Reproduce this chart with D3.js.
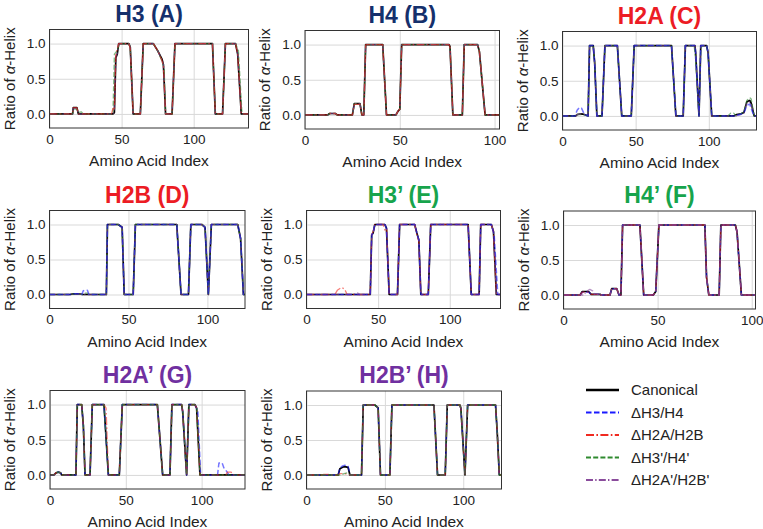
<!DOCTYPE html>
<html><head><meta charset="utf-8">
<script src="https://cdn.jsdelivr.net/npm/d3@7"></script>
<style>
body{margin:0;background:#fff}
svg{display:block}
text{font-family:"Liberation Sans",Arial,Helvetica,sans-serif}
</style>
</head><body>
<svg id="chart" width="763" height="529"></svg>
<script>
// ---------------- data (vertices [aminoAcidIndex, ratio]) ----------------
const seriesNames = ["Canonical", "ΔH3/H4", "ΔH2A/H2B", "ΔH3'/H4'", "ΔH2A'/H2B'"];
const xTicks = [0, 50, 100];
const yTicks = [0.0, 0.5, 1.0];
const yTickLabels = ["0.0", "0.5", "1.0"];

// H3 (A)
const h3Canonical = [[0,0],[16,0],[16.5,0.09],[19,0.09],[20,0],[44,0],[45,0.02],[46,0.8],[47,0.85],[48,1],[55,1],[56,0.95],[58,0],[63,0],[65,1],[72,1],[75,0.9],[78,0.78],[79,0.7],[80.5,0],[85,0],[87,1],[113,1],[115,0],[120,0],[122,1],[129,1],[130.5,0.85],[133,0],[138,0]];
const h3DH2AH2B = [[0,0],[16,0],[16.5,0.09],[19,0.09],[20,0],[43,0],[44,0.08],[45,0.05],[46,0.85],[48,1],[55,1],[56,0.93],[58,0],[63,0],[65,1],[72,1],[75,0.9],[78,0.76],[79,0.68],[80.5,0],[85,0],[87,1],[113,1],[115,0],[120,0],[122,1],[129,1],[130.5,0.85],[133,0],[138,0]];
const h3DH3pH4p = [[0,0],[16,0],[16.5,0.07],[19,0.07],[20,0.02],[22,0.03],[23.5,0],[44,0],[45,0.85],[47,0.9],[48.5,1],[55,1],[56,0.95],[58,0],[63,0],[65,1],[72,1],[75,0.9],[78,0.75],[79.5,0.65],[80.5,0],[85,0],[87,1],[113,1],[115,0],[120,0],[122,1],[129,1],[131,0.9],[133.5,0],[138,0]];
const h3DH2ApH2Bp = [[0,0],[16,0],[16.5,0.08],[19,0.08],[20,0],[44,0],[45,0.03],[46,0.82],[47,0.86],[48,1],[55,1],[56,0.95],[58,0],[63,0],[65,1],[72,1],[75,0.9],[78,0.77],[79,0.7],[80.5,0],[85,0],[87,1],[113,1],[115,0],[120,0],[122,1],[129,1],[130.5,0.86],[133,0],[138,0]];

// H4 (B)
const h4Canonical = [[0,0],[12,0],[13,0.02],[16,0.02],[17,0],[25,0],[26,0.16],[29,0.16],[30,0],[31,0],[32,1],[41,1],[43,0],[48,0],[49,0.05],[50,0.08],[51,1],[76,1],[76.5,0.97],[78,0],[83,0],[84,1],[91,1],[92,0.9],[95,0],[102.6,0]];
const h4DH2AH2B = [[0,0],[12,0],[13,0.02],[16,0.02],[17,0],[25,0],[26,0.15],[29,0.15],[30,0],[31,0],[32,1],[41,1],[43,0],[48,0],[49,0.05],[50,0.08],[51,1],[76,1],[76.5,0.96],[78,0],[83,0],[84,1],[91,1],[92,0.9],[95,0],[102.6,0]];
const h4DH3pH4p = [[0,0],[12,0],[13,0.02],[16,0.02],[17,0],[25,0],[26,0.16],[29,0.16],[30,0],[31,0],[32,1],[41,1],[43,0],[48,0],[49,0.05],[50,0.08],[51,1],[76,1],[76.5,0.97],[78,0],[83,0],[84,1],[91,1],[92,0.9],[95,0],[102.6,0]];
const h4DH2ApH2Bp = [[0,0],[12,0],[13,0.02],[16,0.02],[17,0],[25,0],[26,0.16],[29,0.16],[30,0],[31,0],[32,1],[41,1],[43,0],[48,0],[49,0.05],[50,0.08],[51,1],[76,1],[76.5,0.97],[78,0],[83,0],[84,1],[91,1],[92,0.9],[95,0],[102.6,0]];

// H2A (C)
const h2aCanonical = [[0,0],[9,0],[10,0.02],[13,0.03],[15,0.02],[17.5,0],[18.5,1],[21,1],[22,0.75],[23.5,0],[27,0],[29,1],[37.5,1],[40.5,0],[47,0],[49,1],[74.5,1],[77.5,0],[82.5,0],[84,1],[90.5,1],[91,0.9],[93.3,0],[94.5,1],[98.5,1],[99.5,0.9],[102,0],[117,0],[119,0.02],[122,0.03],[124,0.05],[126,0.2],[128,0.22],[129,0.18],[131,0],[132.6,0]];
const h2aDH3H4 = [[0,0],[8.5,0],[10,0.08],[11.5,0.12],[13,0.11],[15,0.02],[17.5,0],[18.5,1],[21,1],[22,0.75],[23.5,0],[27,0],[29,1],[37.5,1],[40.5,0],[47,0],[49,1],[74.5,1],[77.5,0],[82.5,0],[84,1],[90.5,1],[91,0.9],[93.3,0],[94.5,1],[98.5,1],[99.5,0.9],[102,0],[118,0],[121,0.02],[124,0.04],[126,0.15],[128,0.17],[129,0.1],[131,0],[132.6,0]];
const h2aDH3pH4p = [[0,0],[9,0],[10,0.02],[13,0.02],[17.5,0],[18.5,1],[21,1],[22,0.75],[23.5,0],[27,0],[29,1],[37.5,1],[40.5,0],[47,0],[49,1],[74.5,1],[77.5,0],[82.5,0],[84,1],[90,1],[90.8,0.85],[93.3,0],[94.5,0.95],[95.5,1],[98.5,1],[99.5,0.9],[102,0],[113,0],[115,0.04],[117,0.04],[118.5,0],[121,0.02],[124,0.06],[126,0.22],[128,0.26],[129,0.24],[131,0],[132.6,0]];
const h2aDH2ApH2Bp = [[0,0],[9,0],[10,0.02],[13,0.03],[15,0.02],[17.5,0],[18.5,1],[21,1],[22,0.75],[23.5,0],[27,0],[29,1],[37.5,1],[40.5,0],[47,0],[49,1],[74.5,1],[77.5,0],[82.5,0],[84,1],[90.5,1],[91,0.9],[93.3,0],[94.5,1],[98.5,1],[99.5,0.9],[102,0],[118,0],[122,0.02],[124,0.04],[126,0.18],[128,0.2],[129,0.16],[131,0],[132.6,0]];

// H2B (D)
const h2bCanonical = [[0,0],[13,0],[15,0.01],[19,0.01],[21,0],[36,0],[36.7,1],[43.5,1],[46,0.96],[47.3,0],[53,0],[54.4,1],[80.6,1],[83.3,0],[88,0],[89.5,1],[96.5,1],[98.5,0.96],[100.6,0],[102.5,1],[119.2,1],[121,0.8],[122.8,0],[123.8,0]];
const h2bDH3H4 = [[0,0],[13,0],[15,0.01],[19,0.01],[20.5,0],[21.3,0.05],[22,0.06],[24,0.06],[25,0],[36,0],[36.7,1],[43.5,1],[46,0.96],[47.3,0],[53,0],[54.4,1],[80.6,1],[83.3,0],[88,0],[89.5,1],[96.5,1],[98.5,0.96],[100.6,0],[102.5,1],[119.2,1],[121,0.8],[122.8,0],[123.8,0]];
const h2bDH3pH4p = [[0,0],[13,0],[15,0.01],[19,0.01],[21,0],[22,0.02],[24,0.02],[25,0],[36,0],[36.7,1],[43.5,1],[46,0.96],[47.3,0],[53,0],[54.4,1],[80.6,1],[83.3,0],[88,0],[89.5,1],[96.5,1],[98.5,0.96],[100.6,0],[102.5,1],[119.2,1],[121,0.8],[122.8,0],[123.8,0]];
const h2bDH2ApH2Bp = [[0,0],[13,0],[15,0.01],[19,0.01],[21,0],[36,0],[36.7,1],[43.5,1],[46,0.96],[47.3,0],[53,0],[54.4,1],[80.6,1],[83.3,0],[88,0],[89.5,1],[96.5,1],[98.5,0.96],[100.6,0],[102.5,1],[119.2,1],[121,0.8],[122.8,0],[123.8,0]];

// H3' (E)
const h3pCanonical = [[0,0],[44.5,0],[45.5,0.85],[46.5,0.88],[47.7,1],[54.7,1],[55.8,0.95],[57.7,0],[63.5,0],[65,1],[75.5,1],[77,0.88],[78.4,0.78],[79.8,0],[85,0],[86.7,1],[112.8,1],[115,0],[120.5,0],[121.6,1],[129,1],[130.5,0.9],[132.5,0],[135.4,0]];
const h3pDH3H4 = [[0,0],[44.5,0],[45.5,0.85],[46.5,0.88],[47.7,1],[54.7,1],[55.8,0.95],[57.7,0],[63.5,0],[65,1],[75.5,1],[77,0.88],[78.4,0.78],[79.8,0],[85,0],[86.7,1],[112.8,1],[115,0],[120.5,0],[121.6,1],[129,1],[131,0.85],[133.5,0],[135.4,0]];
const h3pDH2AH2B = [[0,0],[19.8,0],[21.5,0.06],[24.4,0.1],[26.5,0.08],[28.4,0],[44.5,0],[45.5,0.85],[46.5,0.9],[47.7,1],[53.5,1],[55,0.9],[56,0.93],[57.7,0],[63.5,0],[65,1],[75.5,1],[77,0.85],[78.4,0.76],[79.8,0],[85,0],[86.7,1],[112.8,1],[115,0],[120.5,0],[121.6,1],[129,1],[130.5,0.9],[132.5,0],[135.4,0]];
const h3pDH2ApH2Bp = [[0,0],[33,0],[34.5,0.025],[36,0.02],[37,0],[44.5,0],[45.5,0.85],[46.5,0.88],[47.7,1],[54.7,1],[55.8,0.95],[57.7,0],[63.5,0],[65,1],[75.5,1],[77,0.88],[78.4,0.78],[79.8,0],[85,0],[86.7,1],[112.8,1],[115,0],[120.5,0],[121.6,1],[129,1],[130.5,0.9],[132.5,0],[135.4,0]];

// H4' (F)
const h4pCanonical = [[0,0],[8.8,0],[10,0.05],[13.3,0.05],[14.7,0.01],[19.4,0.01],[20,0],[24.7,0],[25.6,0.09],[28.3,0.09],[29.5,0],[30.5,0],[31.4,1],[40.6,1],[42.6,0],[47.7,0],[49,0.05],[50.7,1],[75.1,1],[76,0.25],[77.2,0],[82.7,0],[83.6,1],[91.3,1],[92.2,0.9],[94.5,0],[102,0]];
const h4pDH3H4 = [[0,0],[8.8,0],[10,0.04],[13.3,0.04],[14.7,0.01],[19.4,0.01],[20,0],[24.7,0],[25.6,0.09],[28.3,0.09],[29.5,0],[30.5,0],[31.4,1],[40.6,1],[42.6,0],[47.7,0],[49,0.05],[50.7,1],[75.1,1],[76,0.25],[77.2,0],[82.7,0],[83.6,1],[91.3,1],[92.2,0.9],[94.5,0],[102,0]];
const h4pDH2AH2B = [[0,0],[8.8,0],[10,0.04],[13.3,0.04],[14.7,0.01],[19.4,0.01],[20,0],[24.7,0],[25.6,0.09],[28.3,0.09],[29.5,0],[30.5,0],[31.4,1],[40.6,1],[42.6,0],[47.7,0],[49,0.05],[50.7,1],[75.1,1],[76,0.25],[77.2,0],[82.7,0],[83.6,1],[91.3,1],[92.2,0.9],[94.5,0],[102,0]];
const h4pDH2ApH2Bp = [[0,0],[11,0],[12,0.05],[14,0.08],[15.5,0.06],[16.5,0.01],[19.4,0.01],[20,0],[24.7,0],[25.6,0.09],[28.3,0.09],[29.5,0],[30.5,0],[31.4,1],[40.6,1],[42.6,0],[47.7,0],[49,0.05],[50.7,1],[75.1,1],[76,0.25],[77.2,0],[82.7,0],[83.6,1],[91.3,1],[92.2,0.9],[94.5,0],[102,0]];

// H2A' (G)
const h2apCanonical = [[0,0],[2.6,0],[4,0.03],[5.5,0.04],[7,0.03],[7.7,0],[17.1,0],[18,1],[20.9,1],[22,0.7],[23.1,0],[26.4,0],[27.9,1],[35.6,1],[38.5,0],[45.7,0],[47.7,1],[70.8,1],[74.3,0],[79.1,0],[80.4,1],[86.8,1],[87.5,0.9],[90.1,0],[91.6,1],[95.6,1],[96.7,0.95],[98.9,0],[128.6,0]];
const h2apDH3H4 = [[0,0],[2.6,0],[4,0.03],[5.5,0.04],[7,0.03],[7.7,0],[17.1,0],[18,1],[20.9,1],[22,0.7],[23.1,0],[26.4,0],[27.9,1],[35.6,1],[38.5,0],[45.7,0],[47.7,1],[70.8,1],[74.3,0],[79.1,0],[80.4,1],[86.8,1],[87.5,0.9],[90.1,0],[91.6,1],[95.6,1],[97.5,0.9],[99.3,0],[110.5,0],[111.4,0.17],[113.5,0.17],[114.7,0.1],[116.5,0.05],[118,0],[128.6,0]];
const h2apDH2AH2B = [[0,0],[2.6,0],[4,0.03],[5.5,0.04],[7,0.03],[7.7,0],[17.1,0],[18,1],[20.9,1],[22,0.7],[23.1,0],[26.4,0],[27.9,1],[35.6,1],[37,0.95],[38.5,0],[45.7,0],[47.7,1],[70.8,1],[74.3,0],[79.1,0],[80.4,1],[86.8,1],[87.5,0.9],[90.1,0],[91.6,1],[95.6,1],[96.7,0.95],[98.9,0],[116,0],[117,0.04],[119.5,0.04],[120.5,0],[128.6,0]];
const h2apDH3pH4p = [[0,0],[2.6,0],[4,0.03],[5.5,0.04],[7,0.03],[7.7,0],[17.1,0],[18,1],[20.9,1],[22,0.7],[23.1,0],[26.4,0],[27.9,1],[35.6,1],[38.5,0],[45.7,0],[47.7,1],[70.8,1],[74.3,0],[79.1,0],[80.4,1],[86.8,1],[87.5,0.9],[90.1,0],[91.6,1],[95.6,1],[96.7,0.95],[98.9,0],[128.6,0]];

// H2B' (H)
const h2bpCanonical = [[0,0],[20.2,0],[21.3,0.09],[23,0.11],[24.5,0.12],[26.5,0.11],[27.7,0],[35.1,0],[36.2,1],[43.6,1],[45.7,0.96],[47.2,0],[53.2,0],[54.5,1],[81.3,1],[83.6,0],[88.5,0],[89.8,1],[97.9,1],[98.5,0.95],[101.1,0],[102.8,1],[120.6,1],[121.7,0.6],[123,0],[124.4,0]];
const h2bpDH3H4 = [[0,0],[20.2,0],[21.3,0.1],[23,0.13],[24.5,0.14],[26.5,0.13],[27.7,0],[35.1,0],[36.2,1],[43.6,1],[45.7,0.96],[47.2,0],[53.2,0],[54.5,1],[81.3,1],[83.6,0],[88.5,0],[89.8,1],[97.9,1],[98.5,0.95],[101.1,0],[102.8,1],[120.6,1],[121.7,0.6],[123,0],[124.4,0]];
const h2bpDH2AH2B = [[0,0],[10,0],[11,0.01],[14,0.01],[15,0],[20.2,0],[21.3,0.02],[24.5,0.02],[27.7,0],[35.1,0],[36.2,1],[43.6,1],[45.7,0.96],[47.2,0],[53.2,0],[54.5,1],[81.3,1],[83.6,0],[88.5,0],[89.8,1],[97.9,1],[98.5,0.95],[101.1,0],[102.8,1],[120.6,1],[121.7,0.6],[123,0],[124.4,0]];
const h2bpDH3pH4p = [[0,0],[22,0],[24,0.02],[26,0.03],[28,0],[35.1,0],[36.2,1],[43.6,1],[45.7,0.96],[47.2,0],[53.2,0],[54.5,1],[81.3,1],[83.6,0],[88.5,0],[89.8,1],[97.9,1],[98.5,0.95],[101.1,0],[102.8,1],[120.6,1],[121.7,0.6],[123,0],[124.4,0]];

const panelTitles = ["H3 (A)", "H4 (B)", "H2A (C)", "H2B (D)", "H3’ (E)", "H4’ (F)", "H2A’ (G)", "H2B’ (H)"];
const panelXMax = [138, 102.6, 132.6, 123.8, 135.4, 102, 128.6, 124.4];
// series per panel, keyed by index into seriesNames
const panelSeries = [
  {0: h3Canonical, 2: h3DH2AH2B, 3: h3DH3pH4p, 4: h3DH2ApH2Bp},
  {0: h4Canonical, 2: h4DH2AH2B, 3: h4DH3pH4p, 4: h4DH2ApH2Bp},
  {0: h2aCanonical, 1: h2aDH3H4, 3: h2aDH3pH4p, 4: h2aDH2ApH2Bp},
  {0: h2bCanonical, 1: h2bDH3H4, 3: h2bDH3pH4p, 4: h2bDH2ApH2Bp},
  {0: h3pCanonical, 1: h3pDH3H4, 2: h3pDH2AH2B, 4: h3pDH2ApH2Bp},
  {0: h4pCanonical, 1: h4pDH3H4, 2: h4pDH2AH2B, 4: h4pDH2ApH2Bp},
  {0: h2apCanonical, 1: h2apDH3H4, 2: h2apDH2AH2B, 3: h2apDH3pH4p},
  {0: h2bpCanonical, 1: h2bpDH3H4, 2: h2bpDH2AH2B, 3: h2bpDH3pH4p}
];

// ---------------- styles & layout ----------------
const titleColors = ["#15306c", "#15306c", "#ec1c24", "#ec1c24", "#17a44c", "#17a44c", "#7030a0", "#7030a0"];
const seriesStyle = [
  {color: "#000000", width: 1.7, dash: null},
  {color: "#1a1aff", width: 1.5, dash: "5.5,2.5"},
  {color: "#f02a20", width: 1.3, dash: "8,2.4,1.6,2.4"},
  {color: "#2f8a2f", width: 1.3, dash: "5,2.2"},
  {color: "#8a4c9c", width: 1.3, dash: "7,2.2,1.4,2.2"}
];
// which variant ends up on top in each panel (draw order)
const drawOrder = [[0,3,4,2],[0,3,4,2],[0,3,4,1],[0,3,4,1],[0,2,4,1],[0,1,2,4],[0,1,2,3],[0,1,2,3]];
// plot boxes [left, top, right, bottom]
const boxes = [
  [49.5, 29.5, 248.5, 128],
  [305, 30.5, 499.5, 129],
  [562.5, 31.5, 756.5, 130],
  [49.5, 210.5, 245, 308.5],
  [306.5, 210.5, 500.5, 308.5],
  [563.5, 211, 755.5, 309],
  [50, 390.5, 245, 489],
  [306.5, 391, 501.5, 489]
];

const svg = d3.select("#chart");
svg.append("rect").attr("width", 763).attr("height", 529).attr("fill", "#fff");

boxes.forEach((b, i) => {
  const [L, T, R, B] = b;
  const x = d3.scaleLinear().domain([0, panelXMax[i]]).range([L, R]);
  const y = d3.scaleLinear().domain([-0.2, 1.2]).range([B, T]);
  const g = svg.append("g");

  // grid
  g.append("g").attr("transform", `translate(0,${B})`)
    .call(d3.axisBottom(x).tickValues(xTicks).tickSize(-(B - T)).tickFormat(""))
    .call(a => a.select(".domain").remove())
    .call(a => a.selectAll("line").attr("stroke", "#d9d9d9").attr("stroke-width", 1));
  g.append("g").attr("transform", `translate(${L},0)`)
    .call(d3.axisLeft(y).tickValues(yTicks).tickSize(-(R - L)).tickFormat(""))
    .call(a => a.select(".domain").remove())
    .call(a => a.selectAll("line").attr("stroke", "#d9d9d9").attr("stroke-width", 1));

  // clip
  const cid = "clip" + i;
  svg.append("clipPath").attr("id", cid).append("rect")
    .attr("x", L).attr("y", T).attr("width", R - L).attr("height", B - T);

  const line = d3.line().x(d => x(d[0])).y(d => y(d[1]));
  const lines = g.append("g").attr("clip-path", `url(#${cid})`);
  drawOrder[i].forEach(k => {
    const st = seriesStyle[k];
    lines.append("path").datum(panelSeries[i][k])
      .attr("d", line).attr("fill", "none")
      .attr("stroke", st.color).attr("stroke-width", st.width)
      .attr("stroke-opacity", k === 0 ? 1 : 0.6)
      .attr("stroke-dasharray", st.dash)
      .attr("stroke-linejoin", "round");
  });

  // frame
  g.append("rect").attr("x", L).attr("y", T).attr("width", R - L).attr("height", B - T)
    .attr("fill", "none").attr("stroke", "#333").attr("stroke-width", 1);

  // tick labels
  const ax = g.append("g").attr("transform", `translate(0,${B})`)
    .call(d3.axisBottom(x).tickValues(xTicks).tickSize(0).tickPadding(6).tickFormat(d3.format("d")));
  ax.select(".domain").remove();
  ax.selectAll("text").attr("font-size", 13.5).attr("fill", "#222").attr("font-family", null);
  const ay = g.append("g").attr("transform", `translate(${L},0)`)
    .call(d3.axisLeft(y).tickValues(yTicks).tickSize(0).tickPadding(4).tickFormat((d, j) => yTickLabels[j]));
  ay.select(".domain").remove();
  ay.selectAll("text").attr("font-size", 13.5).attr("fill", "#222").attr("font-family", null);

  // axis labels
  g.append("text").attr("x", (L + R) / 2).attr("y", B + 38)
    .attr("text-anchor", "middle").attr("font-size", 15.5).attr("fill", "#222")
    .text("Amino Acid Index");
  const yl = g.append("text")
    .attr("transform", `translate(${L - 40},${(T + B) / 2}) rotate(-90)`)
    .attr("text-anchor", "middle").attr("dy", "0.35em")
    .attr("font-size", 15).attr("fill", "#222");
  yl.append("tspan").text("Ratio of ");
  yl.append("tspan").attr("font-style", "italic").text("α");
  yl.append("tspan").text("-Helix");

  // title
  g.append("text").attr("x", (L + R) / 2).attr("y", T - 8)
    .attr("text-anchor", "middle").attr("font-size", 23).attr("font-weight", "bold")
    .attr("fill", titleColors[i]).text(panelTitles[i]);
});

// legend
const leg = svg.append("g");
const legY = d3.scalePoint().domain(seriesNames).range([390, 480]);
seriesNames.forEach((name, k) => {
  const st = seriesStyle[k];
  leg.append("line").attr("x1", 586).attr("x2", 619)
    .attr("y1", legY(name)).attr("y2", legY(name))
    .attr("stroke", st.color).attr("stroke-width", k === 0 ? 2.5 : 2)
    .attr("stroke-dasharray", st.dash);
  leg.append("text").attr("x", 631).attr("y", legY(name)).attr("dy", "0.35em")
    .attr("font-size", 15).attr("fill", "#222").text(name);
});
</script>
</body></html>
